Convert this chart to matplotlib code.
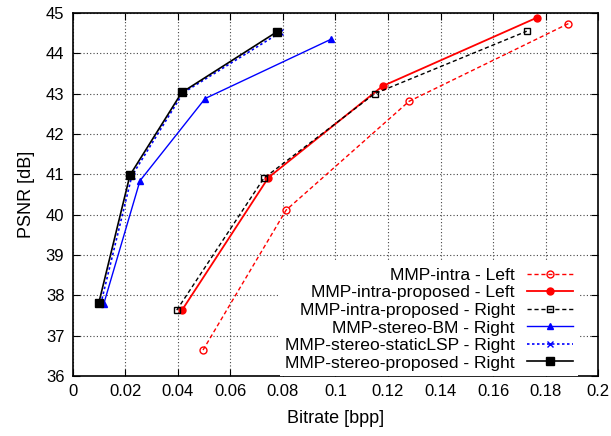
import matplotlib
matplotlib.use("Agg")
import matplotlib.pyplot as plt

plt.rcParams['font.family'] = ['Liberation Sans', 'DejaVu Sans']

# Data
intra_left_x = [0.0496, 0.0812, 0.128, 0.1887]
intra_left_y = [36.64, 40.11, 42.81, 44.74]

intra_prop_left_x = [0.0416, 0.0745, 0.118, 0.1768]
intra_prop_left_y = [37.63, 40.92, 43.19, 44.89]

intra_prop_right_x = [0.0396, 0.0727, 0.1149, 0.1728]
intra_prop_right_y = [37.63, 40.90, 43.00, 44.55]

stereo_bm_x = [0.0118, 0.0256, 0.0504, 0.0983]
stereo_bm_y = [37.78, 40.84, 42.88, 44.35]

stereo_static_x = [0.0107, 0.0225, 0.0420, 0.0790]
stereo_static_y = [37.79, 40.96, 43.02, 44.52]

stereo_prop_x = [0.0099, 0.0218, 0.0415, 0.0776]
stereo_prop_y = [37.80, 40.98, 43.03, 44.53]

x_ticks = [0, 0.02, 0.04, 0.06, 0.08, 0.1, 0.12, 0.14, 0.16, 0.18, 0.2]
x_tick_labels = ['0', '0.02', '0.04', '0.06', '0.08', '0.1', '0.12', '0.14', '0.16', '0.18', '0.2']
y_ticks = [36, 37, 38, 39, 40, 41, 42, 43, 44, 45]

fig = plt.figure(figsize=(6.11, 4.36), dpi=100)
ax = fig.add_axes([0.119, 0.138, 0.860, 0.832])

ax.plot(intra_left_x, intra_left_y, color='#ff0000', linestyle=(0, (3, 2)), lw=1,
        marker='o', markersize=5, markerfacecolor='none', markeredgecolor='#ff0000',
        label='MMP-intra - Left')
ax.plot(intra_prop_left_x, intra_prop_left_y, color='#ff0000', linestyle='-', lw=1.3,
        marker='o', markersize=5, label='MMP-intra-proposed - Left')
ax.plot(intra_prop_right_x, intra_prop_right_y, color='black', linestyle=(0, (3, 2)), lw=1,
        marker='s', markersize=5, markerfacecolor='none', markeredgecolor='black',
        label='MMP-intra-proposed - Right')
ax.plot(stereo_bm_x, stereo_bm_y, color='#0000ff', linestyle='-', lw=1,
        marker='^', markersize=5, label='MMP-stereo-BM - Right')
ax.plot(stereo_static_x, stereo_static_y, color='#0000ff', linestyle=(0, (1.5, 1.5)), lw=1.2,
        marker='x', markersize=5, label='MMP-stereo-staticLSP - Right')
ax.plot(stereo_prop_x, stereo_prop_y, color='black', linestyle='-', lw=1.2,
        marker='s', markersize=6, label='MMP-stereo-proposed - Right')

ax.set_xlim(0, 0.2)
ax.set_ylim(36, 45)
ax.set_xticks(x_ticks)
ax.set_xticklabels(x_tick_labels)
ax.set_yticks(y_ticks)
ax.tick_params(direction='in', top=True, right=True, labelsize=12, length=5, pad=6)
ax.grid(True, color='#444444', linestyle=(0, (1, 2)), linewidth=0.8)
ax.set_axisbelow(True)
for s in ax.spines.values():
    s.set_linewidth(1.2)

ax.set_xlabel('Bitrate [bpp]', fontsize=13, labelpad=8)
ax.set_ylabel('PSNR [dB]', fontsize=13, labelpad=8)

leg = ax.legend(loc='lower right', bbox_to_anchor=(0.962, 0.0), fontsize=12.6,
                markerfirst=False, frameon=True,
                facecolor='white', edgecolor='none', framealpha=1, fancybox=False,
                handlelength=2.63, labelspacing=0.13, borderpad=0.3, borderaxespad=0.0,
                handletextpad=0.69)
for t in leg.get_texts():
    t.set_ha('right')
leg._legend_box.align = 'right'
leg.set_zorder(5)

fig.savefig('out.png', dpi=100)
